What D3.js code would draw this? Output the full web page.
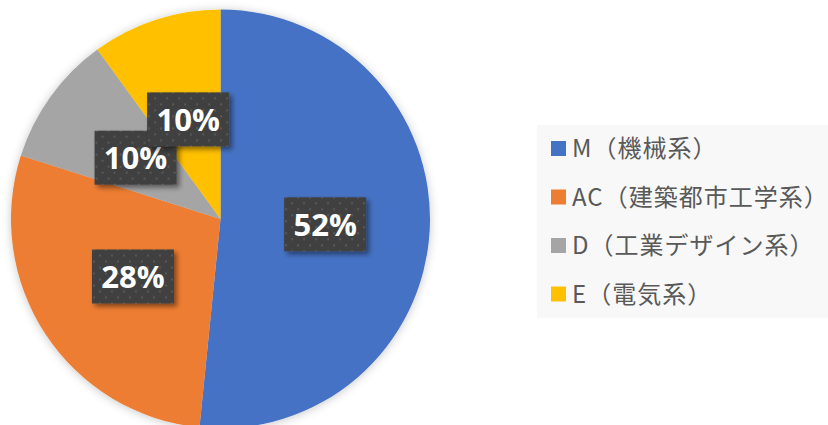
<!DOCTYPE html>
<html><head><meta charset="utf-8">
<script src="https://cdn.jsdelivr.net/npm/d3@7"></script>
<style>html,body{margin:0;padding:0;background:#fff;}svg{display:block;}</style>
</head><body>
<svg id="c" width="828" height="425"></svg>
<script>
const categories = ["M（機械系）", "AC（建築都市工学系）", "D（工業デザイン系）", "E（電気系）"];
const values = [51.6, 28.3, 10.1, 10.0];
const colors = ["#4472C4", "#ED7D31", "#A5A5A5", "#FFC000"];

const svg = d3.select("#c");
const defs = svg.append("defs");
const f1 = defs.append("filter").attr("id","pieShadow").attr("x","-20%").attr("y","-20%").attr("width","140%").attr("height","140%");
f1.append("feDropShadow").attr("dx",0).attr("dy",1).attr("stdDeviation",5).attr("flood-color","#000").attr("flood-opacity",0.22);
const f2 = defs.append("filter").attr("id","lblShadow").attr("x","-20%").attr("y","-20%").attr("width","150%").attr("height","160%");
f2.append("feDropShadow").attr("dx",3).attr("dy",3).attr("stdDeviation",2.5).attr("flood-color","#000").attr("flood-opacity",0.45);
const pat = defs.append("pattern").attr("id","dots").attr("patternUnits","userSpaceOnUse").attr("width",12).attr("height",12);
pat.append("rect").attr("width",12).attr("height",12).attr("fill","#404040");
pat.append("rect").attr("x",2).attr("y",2).attr("width",2).attr("height",2).attr("fill","#585858");
pat.append("rect").attr("x",8).attr("y",8).attr("width",2).attr("height",2).attr("fill","#585858");

const cx = 220.5, cy = 219, r = 209.5;
const total = d3.sum(values);
const pie = d3.pie().sort(null).value(d => d)(values);
const arc = d3.arc().innerRadius(0).outerRadius(r);

const g = svg.append("g").attr("transform", `translate(${cx},${cy})`);
g.append("g").attr("filter","url(#pieShadow)")
  .selectAll("path").data(pie).join("path")
  .attr("d", arc).attr("fill", (d,i) => colors[i]);

const bw = 82, bh = 54;
const lg = g.append("g");
pie.forEach((d,i) => {
  const [x,y] = arc.centroid(d);
  const p = Math.round(d.value / total * 100) + "%";
  const gg = lg.append("g").attr("transform", `translate(${x},${y})`);
  gg.append("rect").attr("x",-bw/2).attr("y",-bh/2).attr("width",bw).attr("height",bh)
    .attr("fill","url(#dots)").attr("filter","url(#lblShadow)");
  gg.append("text").attr("x",0).attr("y",11.5).attr("text-anchor","middle")
    .attr("font-family","'Open Sans','Noto Sans',sans-serif").attr("font-weight","bold")
    .attr("font-size",31).attr("fill","#fff").text(p);
});

// legend
svg.append("rect").attr("x",537).attr("y",125).attr("width",291).attr("height",193).attr("fill","#f8f8f8");
const ly = d3.scalePoint().domain(categories).range([148.5, 294]);
const leg = svg.append("g").selectAll("g").data(categories).join("g")
  .attr("transform", d => `translate(551,${ly(d)})`);
leg.append("rect").attr("x",0).attr("y",-7.5).attr("width",15).attr("height",15).attr("fill",(d,i)=>colors[i]);
leg.append("text").attr("x",21).attr("y",8.5).attr("font-family","'Noto Sans CJK JP',sans-serif")
  .attr("font-size",24).attr("letter-spacing",1).attr("fill","#595959").text(d=>d);
</script>
</body></html>
